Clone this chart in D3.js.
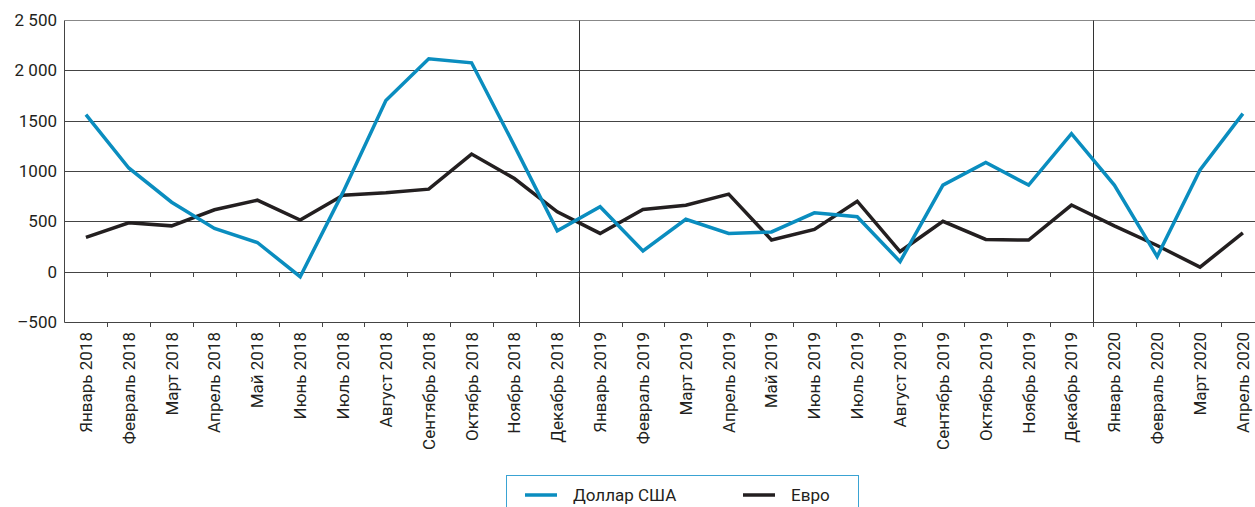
<!DOCTYPE html>
<html>
<head>
<meta charset="utf-8">
<script src="https://cdn.jsdelivr.net/npm/d3@7"></script>
<style>
  body { margin: 0; background: #fff; }
  svg { display: block; font-family: Roboto, "Liberation Sans", Arial, sans-serif; }
</style>
</head>
<body>
<div id="chart"></div>
<script>
const months = [
  'Январь 2018', 'Февраль 2018', 'Март 2018', 'Апрель 2018', 'Май 2018', 'Июнь 2018',
  'Июль 2018', 'Август 2018', 'Сентябрь 2018', 'Октябрь 2018', 'Ноябрь 2018', 'Декабрь 2018',
  'Январь 2019', 'Февраль 2019', 'Март 2019', 'Апрель 2019', 'Май 2019', 'Июнь 2019',
  'Июль 2019', 'Август 2019', 'Сентябрь 2019', 'Октябрь 2019', 'Ноябрь 2019', 'Декабрь 2019',
  'Январь 2020', 'Февраль 2020', 'Март 2020', 'Апрель 2020'
];
const usd = [1560, 1030, 690, 430, 290, -50, 790, 1700, 2115, 2075, 1250, 405,
  645, 205, 520, 380, 395, 585, 545, 100, 860, 1085, 860, 1370,
  860, 150, 1010, 1570];
const eur = [340, 485, 455, 615, 710, 512, 760, 784, 820, 1168, 925, 595,
  380, 618, 660, 770, 315, 420, 700, 200, 500, 320, 314, 662,
  455, 260, 45, 385];
const yTicks = [2500, 2000, 1500, 1000, 500, 0, -500];
const yTickLabels = ['2 500', '2 000', '1500', '1000', '500', '0', '–500'];
const yearStarts = ['Январь 2019', 'Январь 2020'];

const width = 1255, height = 507;
const left = 64.5, step = 42.85;

const svg = d3.select('#chart').append('svg')
    .attr('width', width)
    .attr('height', height);

const x = d3.scaleBand()
    .domain(months)
    .range([left, left + step * months.length])
    .padding(0);

const y = d3.scaleLinear()
    .domain([-500, 2500])
    .range([322, 20]);

const cx = d => x(d) + x.bandwidth() / 2;

// grid lines
svg.append('g')
  .selectAll('line')
  .data(yTicks)
  .join('line')
    .attr('x1', left)
    .attr('x2', width)
    .attr('y1', d => Math.round(y(d)) + 0.5)
    .attr('y2', d => Math.round(y(d)) + 0.5)
    .attr('stroke', d => d === 2500 ? '#888' : '#444')
    .attr('stroke-width', 1);

// left axis line
svg.append('line')
    .attr('x1', left).attr('x2', left)
    .attr('y1', Math.round(y(2500)) + 0.5).attr('y2', Math.round(y(-500)) + 0.5)
    .attr('stroke', '#444');

// year separators
svg.append('g')
  .selectAll('line')
  .data(yearStarts)
  .join('line')
    .attr('x1', d => Math.round(x(d)) + 0.5)
    .attr('x2', d => Math.round(x(d)) + 0.5)
    .attr('y1', Math.round(y(2500)) + 0.5)
    .attr('y2', Math.round(y(-500)) + 0.5)
    .attr('stroke', '#333');

// tick marks under the zero line and under the bottom line
[0, -500].forEach(v => {
  svg.append('g')
    .selectAll('line')
    .data(months.slice(1))
    .join('line')
      .attr('x1', d => Math.round(x(d)) + 0.5)
      .attr('x2', d => Math.round(x(d)) + 0.5)
      .attr('y1', Math.round(y(v)) + 0.5)
      .attr('y2', Math.round(y(v)) + 5)
      .attr('stroke', '#444');
});

// y tick labels
svg.append('g')
  .selectAll('text')
  .data(yTicks)
  .join('text')
    .attr('x', 57)
    .attr('y', d => y(d))
    .attr('dy', '0.35em')
    .attr('text-anchor', 'end')
    .attr('font-size', 17)
    .attr('fill', '#231f20')
    .text((d, i) => yTickLabels[i]);

// x labels
const xAxis = svg.append('g')
    .attr('transform', `translate(0,${y(-500)})`)
    .call(d3.axisBottom(x).tickSize(0).tickPadding(0));
xAxis.select('.domain').remove();
xAxis.selectAll('text')
    .attr('transform', 'rotate(-90)')
    .attr('x', -10)
    .attr('y', 0)
    .attr('dy', '0.35em')
    .attr('text-anchor', 'end')
    .attr('font-size', 17)
    .attr('font-family', 'Roboto, "Liberation Sans", Arial, sans-serif')
    .attr('fill', '#231f20');

// lines
const line = d3.line()
    .x((d, i) => cx(months[i]))
    .y(d => y(d));

svg.append('path')
    .datum(eur)
    .attr('fill', 'none')
    .attr('stroke', '#231f20')
    .attr('stroke-width', 3.5)
    .attr('stroke-linejoin', 'miter')
    .attr('d', line);

svg.append('path')
    .datum(usd)
    .attr('fill', 'none')
    .attr('stroke', '#0a8dbf')
    .attr('stroke-width', 3.5)
    .attr('stroke-linejoin', 'miter')
    .attr('d', line);

// legend
const legend = svg.append('g');
legend.append('rect')
    .attr('x', 506.5).attr('y', 475.5)
    .attr('width', 352).attr('height', 50)
    .attr('fill', 'none')
    .attr('stroke', '#3aa3d3')
    .attr('stroke-width', 1);

const items = [
  { name: 'Доллар США', color: '#0a8dbf', x: 525 },
  { name: 'Евро', color: '#231f20', x: 743 }
];
items.forEach(it => {
  legend.append('line')
      .attr('x1', it.x).attr('x2', it.x + 32)
      .attr('y1', 495).attr('y2', 495)
      .attr('stroke', it.color)
      .attr('stroke-width', 3.5);
  legend.append('text')
      .attr('x', it.x + 48)
      .attr('y', 495)
      .attr('dy', '0.35em')
      .attr('font-size', 17)
      .attr('fill', '#231f20')
      .text(it.name);
});
</script>
</body>
</html>
